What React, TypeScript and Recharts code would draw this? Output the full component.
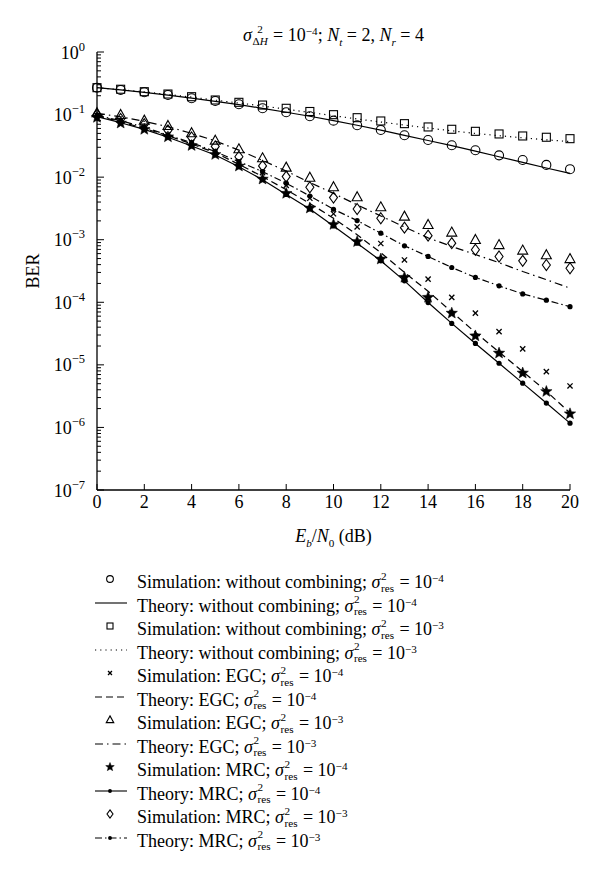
import React from 'react';
import { LineChart, Line, XAxis, YAxis } from 'recharts';

// Eb/N0 in dB
const snr = [0, 1, 2, 3, 4, 5, 6, 7, 8, 9, 10, 11, 12, 13, 14, 15, 16, 17, 18, 19, 20];

// without combining
const simNoComb4 = [0.269, 0.247, 0.227, 0.206, 0.182, 0.165, 0.146, 0.126, 0.109, 0.094, 0.08, 0.0675, 0.0568, 0.0467, 0.0393, 0.0323, 0.0269, 0.0223, 0.0188, 0.0157, 0.0134];
const theoNoComb4 = [0.269, 0.248, 0.227, 0.205, 0.183, 0.163, 0.144, 0.126, 0.109, 0.094, 0.08, 0.0675, 0.0565, 0.0465, 0.0385, 0.0318, 0.026, 0.0212, 0.0172, 0.014, 0.0115];
const simNoComb3 = [0.269, 0.254, 0.232, 0.213, 0.193, 0.171, 0.157, 0.142, 0.126, 0.112, 0.0996, 0.0892, 0.079, 0.0716, 0.0634, 0.0582, 0.054, 0.049, 0.0455, 0.0434, 0.0412];
const theoNoComb3 = [0.269, 0.25, 0.23, 0.21, 0.19, 0.17, 0.153, 0.137, 0.122, 0.108, 0.096, 0.085, 0.076, 0.068, 0.061, 0.055, 0.05, 0.046, 0.0425, 0.0395, 0.037];

// EGC
const simEgc4 = [0.097, 0.079, 0.063, 0.048, 0.036, 0.026, 0.018, 0.0118, 0.0074, 0.0046, 0.0026, 0.0016, 0.00087, 0.000475, 0.000234, 0.00012, 0.000067, 0.000034, 0.000018, 0.0000078, 0.0000046];
const theoEgc4 = [0.095, 0.077, 0.06, 0.046, 0.034, 0.0245, 0.016, 0.0102, 0.0063, 0.0038, 0.0022, 0.0012, 0.00062, 0.0003, 0.00015, 0.00007, 0.000033, 0.000016, 0.0000078, 0.0000038, 0.0000017];
const simEgc3 = [0.105, 0.0986, 0.08, 0.0658, 0.0503, 0.0383, 0.0279, 0.02, 0.0142, 0.0098, 0.0069, 0.00478, 0.0033, 0.00234, 0.00172, 0.0013, 0.00099, 0.00082, 0.00067, 0.000565, 0.00049];
const theoEgc3 = [0.105, 0.092, 0.078, 0.064, 0.05, 0.038, 0.027, 0.0185, 0.0125, 0.0082, 0.0055, 0.0036, 0.0024, 0.0016, 0.00107, 0.00078, 0.00058, 0.00043, 0.00031, 0.00023, 0.000168];

// MRC
const simMrc4 = [0.09, 0.073, 0.058, 0.044, 0.032, 0.023, 0.015, 0.0093, 0.0055, 0.0032, 0.00175, 0.00093, 0.00049, 0.00025, 0.00012, 0.000067, 0.000029, 0.0000154, 0.0000074, 0.00000375, 0.00000165];
const theoMrc4 = [0.0926, 0.074, 0.058, 0.0434, 0.0315, 0.0226, 0.0147, 0.0091, 0.0053, 0.0031, 0.00166, 0.00088, 0.00046, 0.00022, 0.000099, 0.000046, 0.000022, 0.0000106, 0.0000051, 0.00000245, 0.00000117];
const simMrc3 = [0.1, 0.085, 0.07, 0.056, 0.043, 0.031, 0.0212, 0.0151, 0.0102, 0.0069, 0.00471, 0.0031, 0.0022, 0.00156, 0.00116, 0.00088, 0.00069, 0.00054, 0.00046, 0.000395, 0.00035];
const theoMrc3 = [0.097, 0.08, 0.0627, 0.047, 0.0356, 0.0256, 0.0177, 0.01225, 0.008, 0.005, 0.00307, 0.00202, 0.00127, 0.0008, 0.00054, 0.00036, 0.00025, 0.000183, 0.000136, 0.000108, 0.000085];

const xTicks = [0, 2, 4, 6, 8, 10, 12, 14, 16, 18, 20];
const decades = [-7, -6, -5, -4, -3, -2, -1, 0];

// log ticks: majors at each decade, minors 2..9
const yTicks: number[] = [];
decades.forEach((d) => {
  yTicks.push(Math.pow(10, d));
  if (d < 0) for (let k = 2; k <= 9; k++) yTicks.push(k * Math.pow(10, d));
});

const series = [
  { key: 'simNoComb4', values: simNoComb4, kind: 'Simulation', name: 'without combining', exp: 4, marker: 'circle', dash: null },
  { key: 'theoNoComb4', values: theoNoComb4, kind: 'Theory', name: 'without combining', exp: 4, marker: 'none', dash: '' },
  { key: 'simNoComb3', values: simNoComb3, kind: 'Simulation', name: 'without combining', exp: 3, marker: 'square', dash: null },
  { key: 'theoNoComb3', values: theoNoComb3, kind: 'Theory', name: 'without combining', exp: 3, marker: 'none', dash: '1.2 4' },
  { key: 'simEgc4', values: simEgc4, kind: 'Simulation', name: 'EGC', exp: 4, marker: 'cross', dash: null },
  { key: 'theoEgc4', values: theoEgc4, kind: 'Theory', name: 'EGC', exp: 4, marker: 'none', dash: '7 4' },
  { key: 'simEgc3', values: simEgc3, kind: 'Simulation', name: 'EGC', exp: 3, marker: 'triangle', dash: null },
  { key: 'theoEgc3', values: theoEgc3, kind: 'Theory', name: 'EGC', exp: 3, marker: 'none', dash: '8 4 1.5 4' },
  { key: 'simMrc4', values: simMrc4, kind: 'Simulation', name: 'MRC', exp: 4, marker: 'star', dash: null },
  { key: 'theoMrc4', values: theoMrc4, kind: 'Theory', name: 'MRC', exp: 4, marker: 'dot', dash: '' },
  { key: 'simMrc3', values: simMrc3, kind: 'Simulation', name: 'MRC', exp: 3, marker: 'diamond', dash: null },
  { key: 'theoMrc3', values: theoMrc3, kind: 'Theory', name: 'MRC', exp: 3, marker: 'dot', dash: '7 3 1.5 3' },
];

const data = snr.map((x, i) => {
  const row: Record<string, number> = { x };
  series.forEach((s) => (row[s.key] = s.values[i]));
  return row;
});

const FONT = '"Liberation Serif", "DejaVu Serif", serif';

const starPoints = (cx: number, cy: number, R: number, r: number) => {
  const pts: string[] = [];
  for (let i = 0; i < 10; i++) {
    const a = -Math.PI / 2 + (i * Math.PI) / 5;
    const rad = i % 2 === 0 ? R : r;
    pts.push(`${cx + rad * Math.cos(a)},${cy + rad * Math.sin(a)}`);
  }
  return pts.join(' ');
};

const Marker = ({ kind, cx, cy, s = 1 }: { kind: string; cx: number; cy: number; s?: number }) => {
  const sw = 1.1;
  switch (kind) {
    case 'circle':
      return <circle cx={cx} cy={cy} r={4.5 * s} fill="none" stroke="#000" strokeWidth={sw} />;
    case 'square':
      return <rect x={cx - 4 * s} y={cy - 4 * s} width={8 * s} height={8 * s} fill="none" stroke="#000" strokeWidth={sw} />;
    case 'cross':
      return (
        <g stroke="#000" strokeWidth={1.3}>
          <line x1={cx - 2.6 * s} y1={cy - 2.6 * s} x2={cx + 2.6 * s} y2={cy + 2.6 * s} />
          <line x1={cx - 2.6 * s} y1={cy + 2.6 * s} x2={cx + 2.6 * s} y2={cy - 2.6 * s} />
        </g>
      );
    case 'triangle':
      return <polygon points={`${cx},${cy - 5.5 * s} ${cx + 5 * s},${cy + 3.5 * s} ${cx - 5 * s},${cy + 3.5 * s}`} fill="none" stroke="#000" strokeWidth={sw} />;
    case 'star':
      return <polygon points={starPoints(cx, cy, 6 * s, 2.6 * s)} fill="#000" stroke="#000" strokeWidth={0.5} />;
    case 'diamond':
      return <polygon points={`${cx},${cy - 5.5 * s} ${cx + 4 * s},${cy} ${cx},${cy + 5.5 * s} ${cx - 4 * s},${cy}`} fill="none" stroke="#000" strokeWidth={sw} />;
    case 'dot':
      return <circle cx={cx} cy={cy} r={2.6 * s} fill="#000" />;
    default:
      return null;
  }
};

const isMajor = (v: number) => Math.abs(Math.log10(v) - Math.round(Math.log10(v))) < 1e-6;

const LeftTick = (props: any) => {
  const { x, y, payload } = props;
  const v = payload.value;
  const major = isMajor(v);
  const e = Math.round(Math.log10(v));
  const ax = x + 8;
  return (
    <g>
      <line x1={ax} x2={ax + (major ? 7 : 4)} y1={y} y2={y} stroke="#000" strokeWidth={1} />
      {major && (
        <text x={x - 4} y={y + 6.5} textAnchor="end" fontFamily={FONT} fontSize={18} fill="#000">
          10
          <tspan dy={-8} fontSize={12.5}>{e === 0 ? '0' : `\u2212${-e}`}</tspan>
        </text>
      )}
    </g>
  );
};

const RightTick = (props: any) => {
  const { x, y, payload } = props;
  const major = isMajor(payload.value);
  const ax = x - 8;
  return <line x1={ax} x2={ax - (major ? 7 : 4)} y1={y} y2={y} stroke="#000" strokeWidth={1} />;
};

const BottomTick = (props: any) => {
  const { x, y, payload } = props;
  const ay = y - 12;
  return (
    <g>
      <line x1={x} x2={x} y1={ay} y2={ay - 6} stroke="#000" strokeWidth={1} />
      <text x={x} y={ay + 18} textAnchor="middle" fontFamily={FONT} fontSize={18} fill="#000">
        {payload.value}
      </text>
    </g>
  );
};

const TopTick = (props: any) => {
  const { x, y } = props;
  const ay = y + 8;
  return <line x1={x} x2={x} y1={ay} y2={ay + 6} stroke="#000" strokeWidth={1} />;
};

const SupSub = ({ sup, sub }: { sup: React.ReactNode; sub: React.ReactNode }) => (
  <span style={{ display: 'inline-block', verticalAlign: '-0.32em', lineHeight: 1.05, fontSize: '0.62em', margin: '0 0.08em 0 0.05em' }}>
    <span style={{ display: 'block' }}>{sup}</span>
    <span style={{ display: 'block' }}>{sub}</span>
  </span>
);

const Sup = ({ children }: { children: React.ReactNode }) => (
  <span style={{ fontSize: '0.62em', verticalAlign: '0.55em' }}>{children}</span>
);

const LegendSymbol = ({ marker, dash }: { marker: string; dash: string | null }) => (
  <svg width={40} height={20} style={{ position: 'absolute', left: 82, top: 0 }}>
    {dash !== null && <line x1={5} x2={37} y1={10} y2={10} stroke="#000" strokeWidth={1.1} strokeDasharray={dash || undefined} />}
    <Marker kind={marker} cx={20} cy={10} s={0.75} />
  </svg>
);

export default function App() {
  return (
    <div style={{ position: 'relative', width: 584, height: 874, fontFamily: FONT, color: '#000' }}>
      <div style={{ position: 'absolute', top: 16, left: 89, width: 473, textAlign: 'center', fontSize: 18 }}>
        <i>σ</i>
        <SupSub sup="2" sub={<span>Δ<i>H</i></span>} /> = 10<Sup>−4</Sup>; <i>N</i>
        <sub style={{ fontSize: '0.62em' }}><i>t</i></sub> = 2, <i>N</i>
        <sub style={{ fontSize: '0.62em' }}><i>r</i></sub> = 4
      </div>
      <div style={{ position: 'absolute', left: 25, top: 263, transform: 'translate(-50%, -50%) rotate(-90deg)', fontSize: 18 }}>BER</div>
      <LineChart width={584} height={540} data={data} margin={{ top: 44, right: 22, left: 29, bottom: 28 }}>
        <XAxis dataKey="x" type="number" domain={[0, 20]} ticks={xTicks} interval={0} tickSize={0} tickMargin={12} height={30} tick={<BottomTick />} tickLine={false} axisLine={{ stroke: '#000', strokeWidth: 1.3 }} />
        <XAxis xAxisId="top" orientation="top" dataKey="x" type="number" domain={[0, 20]} ticks={xTicks} interval={0} tickSize={0} tickMargin={8} height={0} tick={<TopTick />} tickLine={false} axisLine={{ stroke: '#000', strokeWidth: 1.3 }} />
        <YAxis type="number" scale="log" domain={[1e-7, 1]} ticks={yTicks} interval={0} tickSize={0} tickMargin={8} width={60} tick={<LeftTick />} tickLine={false} axisLine={{ stroke: '#000', strokeWidth: 1.3 }} />
        <YAxis yAxisId="right" orientation="right" type="number" scale="log" domain={[1e-7, 1]} ticks={yTicks} interval={0} tickSize={0} tickMargin={8} width={0} tick={<RightTick />} tickLine={false} axisLine={{ stroke: '#000', strokeWidth: 1.3 }} />
        {series.map((s) => (
          <Line
            key={s.key}
            dataKey={s.key}
            type="linear"
            stroke={s.dash === null ? 'none' : '#000'}
            strokeWidth={1.2}
            strokeDasharray={s.dash || undefined}
            dot={(p: any) => <Marker key={`${s.key}-${p.index}`} kind={s.marker} cx={p.cx} cy={p.cy} />}
            activeDot={false}
            isAnimationActive={false}
          />
        ))}
      </LineChart>
      <div style={{ position: 'absolute', top: 518, left: 89, width: 473, textAlign: 'center', fontSize: 18 }}>
        <i>E</i>
        <sub style={{ fontSize: '0.62em' }}><i>b</i></sub>/<i>N</i>
        <sub style={{ fontSize: '0.62em' }}>0</sub> (dB)
      </div>
      {series.map((s, i) => (
        <div key={s.key} style={{ position: 'absolute', left: 0, top: 561 + i * 23.5, width: 584, height: 20 }}>
          <LegendSymbol marker={s.marker} dash={s.dash} />
          <span style={{ position: 'absolute', left: 129, top: -2, fontSize: 18, whiteSpace: 'nowrap', lineHeight: '22px' }}>
            {s.kind}: {s.name}; <i>σ</i>
            <SupSub sup="2" sub="res" /> = 10<Sup>−{s.exp}</Sup>
          </span>
        </div>
      ))}
    </div>
  );
}
